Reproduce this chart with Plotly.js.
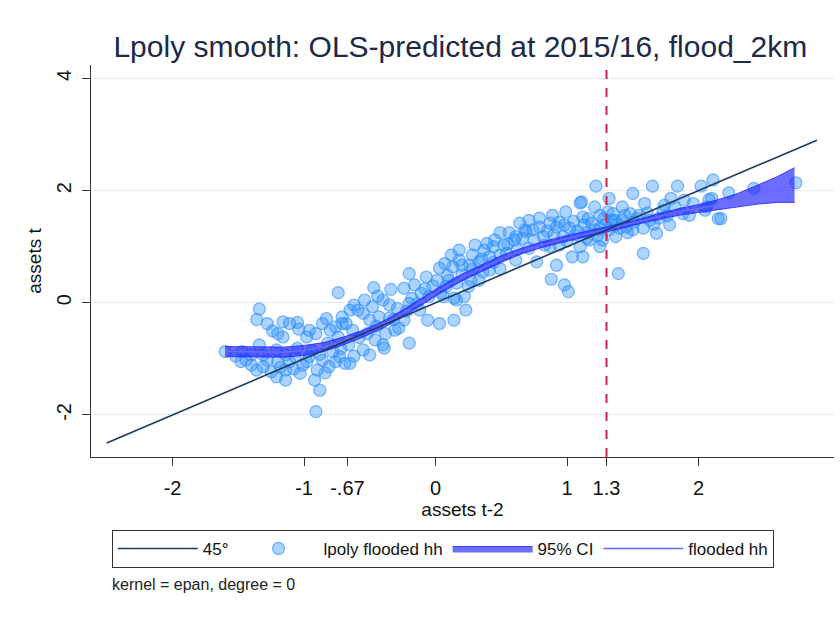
<!DOCTYPE html>
<html>
<head>
<meta charset="utf-8">
<script src="https://cdn.plot.ly/plotly-3.0.1.min.js"></script>
<style>html,body{margin:0;padding:0;background:#fff;}#chart{width:840px;height:617px;}</style>
</head>
<body>
<div id="chart"></div>
<script>
// ---- data ----
const titleText = "Lpoly smooth: OLS-predicted at 2015/16, flood_2km";
const xTickVals = [-2, -1, -0.67, 0, 1, 1.3, 2];
const xTickText = ["-2", "-1", "-.67", "0", "1", "1.3", "2"];
const yTickVals = [-2, 0, 2, 4];
const yTickText = ["-2", "0", "2", "4"];
const refLineX = 1.3;
const diagX = [-2.5, 2.9];
const diagY = [-2.5, 2.9];

const ptsX = [
-1.34,-1.36,-1.28,-1.24,-1.20,-1.16,-1.11,-1.05,-1.04,-1.16,-1.60,-1.47,-1.48,-1.40,-1.34,-1.36,-1.31,-1.25,-1.21,-1.14,
-1.14,-1.20,-1.11,-1.03,-1.01,-0.96,-0.92,-0.90,-0.98,-0.96,-0.91,-0.86,-0.83,-0.80,-0.76,-0.74,-0.71,-0.82,-0.78,-0.86,
-0.81,-0.73,-0.69,-0.88,-0.91,-0.74,-1.05,-1.21,-1.31,-1.40,-1.44,-1.07,-1.14,
-0.47,-0.34,-0.44,-0.40,-0.20,-0.24,-0.16,-0.07,-0.11,-0.05,-0.65,-0.59,-0.55,-0.71,-0.68,-0.63,-0.50,-0.43,-0.55,-0.50,
-0.40,-0.39,-0.20,-0.65,-0.35,-0.29,-0.20,-0.48,0.03,0.14,0.06,0.08,0.13,0.20,0.16,0.23,0.22,0.01,0.07,
1.10,0.99,0.64,0.49,0.56,0.79,0.87,0.94,1.12,0.69,0.39,0.44,0.28,0.18,0.36,0.49,0.61,0.77,0.92,1.04,
1.10,0.87,0.71,0.54,0.16,0.25,0.27,0.14,0.88,0.98,1.01,0.33,0.41,0.82,0.97,1.02,0.61,
1.22,1.32,1.50,1.65,1.84,2.02,2.11,1.11,1.21,1.42,1.59,1.79,1.96,2.06,1.16,1.35,1.48,1.73,1.88,1.25,
1.50,1.58,1.68,1.78,1.15,1.27,1.37,1.42,1.58,1.39,1.12,2.15,1.25,1.34,
2.23,2.42,2.74,2.08,2.17,2.05,2.10,
-0.31,-0.24,-0.12,-0.06,-0.35,-0.54,-0.62,0.03,0.09,0.18,0.30,0.37,0.45,0.26,0.41,0.33,0.49,0.52,0.60,0.68,
0.75,0.83,0.90,0.94,0.79,0.71,0.89,0.98,1.06,1.13,1.17,1.21,1.25,1.29,1.32,1.36,1.40,1.44,1.51,1.55,
1.63,1.70,1.74,1.89,1.93,
-1.52,-1.28,-1.18,-1.08,-0.98,-0.94,-0.88,-0.84,-0.76,-0.72,-0.66,-0.62,-0.58,-0.52,-0.46,-0.45,-0.38,-0.32,-0.28,-0.22,
-0.18,-0.14,-0.08,-0.02,0.04,0.10,0.12,0.20,0.28,0.35,0.44,0.55,0.62,0.66,0.74,0.85,0.92,1.00,1.05,1.08,
1.15,1.19,1.23,1.28,1.31,1.38,1.45,1.46,1.53,1.61,1.66,1.76,1.82
];
const ptsY = [
-0.11,-0.30,-0.37,-0.50,-0.55,-0.34,-0.37,-0.35,-0.47,-0.61,-0.87,-0.87,-1.05,-1.11,-0.75,-1.20,-1.14,-1.23,-1.32,-1.38,
-1.20,-1.05,-1.05,-1.26,-1.11,-0.96,-1.38,-1.20,-0.61,-0.49,-0.55,-0.37,-0.28,-0.49,-0.43,-0.61,-0.37,-0.72,-0.87,-1.02,
-1.14,-0.96,-1.08,-1.56,-1.94,0.18,-0.81,-0.84,-0.93,-0.93,-1.02,-0.96,-0.93,
0.27,0.24,0.12,0.05,0.52,0.26,0.32,0.46,0.17,0.11,-0.13,-0.13,-0.19,-0.25,-0.37,-0.49,-0.31,-0.25,-0.84,-0.93,
-0.75,-0.81,-0.72,-1.08,-0.04,-0.10,-0.01,-0.07,-0.37,-0.31,0.11,0.29,0.64,0.67,0.05,-0.13,0.11,0.40,0.70,
1.78,1.62,1.42,1.25,1.25,1.35,1.42,1.44,1.53,1.27,1.06,1.00,0.85,0.76,0.55,0.61,0.76,0.73,0.67,0.82,
1.00,1.00,0.97,0.88,0.35,0.29,0.40,0.08,0.42,0.32,0.20,0.73,0.82,1.18,1.18,1.33,1.18,
2.08,1.86,1.95,2.08,2.08,2.08,2.19,1.80,1.71,1.71,1.77,1.86,1.77,1.71,1.50,1.59,1.59,1.65,1.59,1.33,
1.30,1.33,1.24,1.39,1.15,1.12,1.18,1.47,0.88,0.52,0.82,1.50,1.00,1.47,
1.96,2.04,2.14,1.84,1.50,1.65,1.86,
-0.49,-0.31,-0.13,-0.31,-0.27,0.05,-0.04,0.62,0.49,0.94,1.03,0.94,1.12,0.67,0.58,0.40,0.85,1.03,1.12,1.30,
1.12,1.03,1.21,1.03,1.51,1.47,1.56,1.39,1.21,1.39,1.12,1.30,1.56,1.39,1.30,1.47,1.33,1.56,1.44,1.56,
1.47,1.51,1.74,1.83,1.56,
-0.95,-1.02,-1.15,-1.18,-1.05,-0.85,-0.92,-1.25,-1.05,-0.82,-0.75,-0.95,-0.62,-0.55,-0.66,-0.42,-0.55,-0.30,-0.45,-0.15,
0.08,-0.02,0.25,0.30,0.18,0.40,0.85,0.50,0.60,0.78,0.72,1.05,0.95,1.15,1.30,1.28,1.35,1.10,1.45,1.28,
1.25,1.42,1.20,1.50,1.62,1.40,1.35,1.25,1.50,1.60,1.40,1.55,1.70
];

const smoothX = [-1.60,-1.45,-1.30,-1.15,-1.00,-0.85,-0.70,-0.55,-0.40,-0.25,-0.10,0.05,0.20,0.35,0.50,0.65,0.80,0.95,1.10,1.25,1.40,1.55,1.70,1.85,2.00,2.15,2.30,2.45,2.60,2.73];
const smoothY = [-0.87,-0.87,-0.88,-0.88,-0.85,-0.79,-0.68,-0.55,-0.39,-0.19,0.03,0.25,0.45,0.62,0.78,0.92,1.03,1.12,1.20,1.28,1.36,1.45,1.54,1.62,1.68,1.75,1.83,1.93,2.02,2.10];
const ciLow  = [-0.96,-0.96,-0.97,-0.97,-0.94,-0.87,-0.75,-0.61,-0.45,-0.25,-0.03,0.19,0.39,0.56,0.72,0.87,0.98,1.07,1.15,1.24,1.32,1.41,1.49,1.56,1.61,1.66,1.71,1.76,1.79,1.79];
const ciHigh = [-0.78,-0.78,-0.79,-0.79,-0.76,-0.71,-0.61,-0.49,-0.33,-0.13,0.09,0.31,0.51,0.68,0.84,0.97,1.08,1.17,1.25,1.32,1.40,1.49,1.59,1.68,1.75,1.84,1.95,2.10,2.25,2.41];

const noteText = "kernel = epan, degree = 0";

// ---- traces ----
const FONT = "Liberation Sans, Arial, sans-serif";
const traces = [
  {x: ptsX, y: ptsY, mode: "markers", type: "scatter", name: "lpoly flooded hh", legendrank: 2,
   marker: {symbol: "circle", size: 12, color: "rgba(40,140,255,0.38)", line: {color: "rgba(40,140,255,0.6)", width: 1.2}},
   hoverinfo: "skip"},
  {x: smoothX, y: ciLow, mode: "lines", type: "scatter", showlegend: false,
   line: {color: "rgba(40,40,255,0.85)", width: 1}, hoverinfo: "skip"},
  {x: smoothX, y: ciHigh, mode: "lines", type: "scatter", name: "95% CI", legendrank: 3,
   fill: "tonexty", fillcolor: "rgba(30,30,255,0.65)",
   line: {color: "rgba(40,40,255,0.85)", width: 1}, hoverinfo: "skip"},
  {x: smoothX, y: smoothY, mode: "lines", type: "scatter", name: "flooded hh", legendrank: 4,
   line: {color: "#6a6af5", width: 1.5}, hoverinfo: "skip"},
  {x: diagX, y: diagY, mode: "lines", type: "scatter", name: "45°", legendrank: 1,
   line: {color: "#1d3c5a", width: 1.6}, hoverinfo: "skip"}
];

const layout = {
  width: 840, height: 617,
  paper_bgcolor: "#ffffff", plot_bgcolor: "#ffffff",
  margin: {l: 91, r: 6, t: 65, b: 160},
  font: {family: FONT, color: "#111111", size: 16},
  title: {text: titleText, x: 0.548, xanchor: "center", y: 0.924, yanchor: "middle", yref: "container",
          font: {family: FONT, size: 30, color: "#1c2a48"}},
  xaxis: {range: [-2.62, 3.03], tickmode: "array", tickvals: xTickVals, ticktext: xTickText,
          showgrid: false, zeroline: false, showline: true, linecolor: "#333333", linewidth: 1,
          ticks: "outside", ticklen: 8, tickcolor: "#333333", ticklabelstandoff: 5,
          tickfont: {family: FONT, size: 20, color: "#111111"},
          title: {text: "assets t-2", font: {family: FONT, size: 19, color: "#111111"}, standoff: 0}},
  yaxis: {range: [-2.75, 4.24], tickmode: "array", tickvals: yTickVals, ticktext: yTickText, tickangle: -90,
          showgrid: true, gridcolor: "#e8ecee", gridwidth: 1, zeroline: false,
          showline: true, linecolor: "#333333", linewidth: 1,
          ticks: "outside", ticklen: 8, tickcolor: "#333333", ticklabelstandoff: 3,
          tickfont: {family: FONT, size: 20, color: "#111111"},
          title: {text: "assets t", font: {family: FONT, size: 19, color: "#111111"}, standoff: 6}},
  shapes: [
    {type: "line", xref: "x", yref: "paper", x0: refLineX, x1: refLineX, y0: 0, y1: 1,
     line: {color: "#c8234a", width: 2, dash: "dash"}}
  ],
  legend: {orientation: "h", x: 0.028, xanchor: "left", y: -0.186, yanchor: "top",
           bordercolor: "#333333", borderwidth: 1, bgcolor: "#ffffff",
           itemwidth: 80,
           font: {family: FONT, size: 17, color: "#111111"},
           traceorder: "normal", itemclick: false},
  annotations: [
    {text: noteText, xref: "paper", yref: "paper", x: 0.0256, y: -0.3265, xanchor: "left", yanchor: "middle",
     showarrow: false, font: {family: FONT, size: 16, color: "#222222"}}
  ],
  showlegend: true
};

Plotly.newPlot("chart", traces, layout, {displayModeBar: false, staticPlot: true});
</script>
</body>
</html>
